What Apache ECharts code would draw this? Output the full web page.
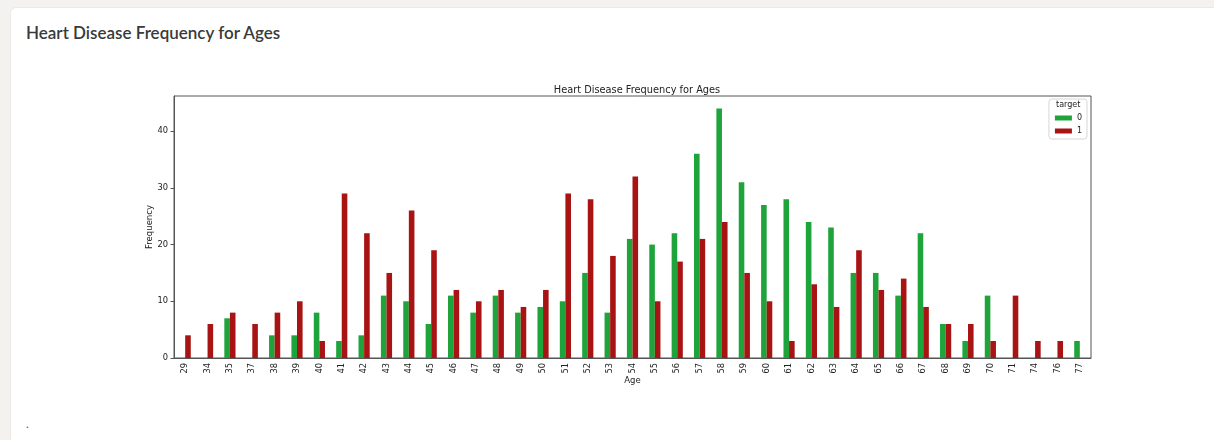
<!DOCTYPE html>
<html>
<head>
<meta charset="utf-8">
<title>Heart Disease Frequency for Ages</title>
<script src="https://cdn.jsdelivr.net/npm/echarts@6/dist/echarts.min.js"></script>
<style>
  html, body { margin: 0; padding: 0; background: #f4f2ee; width: 1214px; height: 440px; overflow: hidden; }
  .card {
    position: absolute; left: 10px; top: 7px; width: 1220px; height: 450px;
    background: #fff; border-radius: 6px; border: 1px solid #ece9e4;
  }
  .card h2 {
    position: absolute; left: 15px; top: 14px; margin: 0;
    font-family: Lato, "Noto Sans", sans-serif; font-weight: 600; font-size: 17px; color: #3a3a3a;
  }
  .card .dot { position: absolute; left: 15px; top: 408px; font-size: 12px; color: #555; font-family: Lato, sans-serif; }
  #chart { position: absolute; left: 0; top: 0; width: 1214px; height: 440px; }
</style>
</head>
<body>
<div class="card"><h2>Heart Disease Frequency for Ages</h2><div class="dot">.</div></div>
<div id="chart"></div>
<script>
const ages = ['29','34','35','37','38','39','40','41','42','43','44','45','46','47','48','49','50','51','52','53',
  '54','55','56','57','58','59','60','61','62','63','64','65','66','67','68','69','70','71','74','76','77'];
// target = 0 (no disease)
const target0 = [0,0,7,0,4,4,8,3,4,11,10,6,11,8,11,8,9,10,15,8,
  21,20,22,36,44,31,27,28,24,23,15,15,11,22,6,3,11,0,0,0,3];
// target = 1 (disease)
const target1 = [4,6,8,6,8,10,3,29,22,15,26,19,12,10,12,9,12,29,28,18,
  32,10,17,21,24,15,10,3,13,9,19,12,14,9,6,6,3,11,3,3,0];
const yTicks = [0, 10, 20, 30, 40];

const green = '#1fa43c';
const red = '#a81414';
const font = 'DejaVu Sans';

const chart = echarts.init(document.getElementById('chart'), null, { renderer: 'canvas' });
chart.setOption({
  animation: false,
  backgroundColor: 'transparent',
  title: {
    text: 'Heart Disease Frequency for Ages',
    left: 632, top: 80, textAlign: 'center',
    textStyle: { fontFamily: font, fontSize: 9.8, fontWeight: 'normal', color: '#222' }
  },
  legend: {
    orient: 'vertical',
    right: 127, top: 99,
    padding: [15, 5, 4, 6],
    itemGap: 5,
    itemWidth: 17, itemHeight: 5,
    icon: 'rect',
    borderColor: '#d6d6d6', borderWidth: 1, borderRadius: 3,
    backgroundColor: '#fff',
    textStyle: { fontFamily: font, fontSize: 8, color: '#222' },
    data: ['0', '1']
  },
  graphic: [{
    type: 'text', left: 1056, top: 101, z: 100,
    style: { text: 'target', font: '8px "DejaVu Sans"', fill: '#222' }
  }],
  grid: {
    left: 174, top: 96, right: 123, bottom: 82,
    show: true, borderColor: '#555', borderWidth: 1, backgroundColor: 'transparent'
  },
  xAxis: {
    type: 'category',
    data: ages,
    name: 'Age', nameLocation: 'middle', nameGap: 18, nameMoveOverlap: false,
    nameTextStyle: { fontFamily: font, fontSize: 8.5, color: '#222' },
    axisLine: { lineStyle: { color: '#555' } },
    axisTick: { alignWithLabel: true, length: 3.5, lineStyle: { color: '#555' } },
    axisLabel: { rotate: 90, fontFamily: font, fontSize: 8.3, color: '#222', margin: 5, interval: 0 }
  },
  yAxis: {
    type: 'value',
    min: 0, max: 46.2,
    name: 'Frequency', nameLocation: 'middle', nameGap: 20, nameRotate: 90, nameMoveOverlap: false,
    nameTextStyle: { fontFamily: font, fontSize: 8.5, color: '#222' },
    axisLine: { show: true, lineStyle: { color: '#555' } },
    axisTick: { show: true, length: 3.5, customValues: yTicks, lineStyle: { color: '#555' } },
    axisLabel: { customValues: yTicks, fontFamily: font, fontSize: 8.3, color: '#222', margin: 6 },
    splitLine: { show: false }
  },
  series: [
    { name: '0', type: 'bar', data: target0, barWidth: '25%', barGap: '0%', itemStyle: { color: green } },
    { name: '1', type: 'bar', data: target1, barWidth: '25%', barGap: '0%', itemStyle: { color: red } }
  ]
});
</script>
</body>
</html>
